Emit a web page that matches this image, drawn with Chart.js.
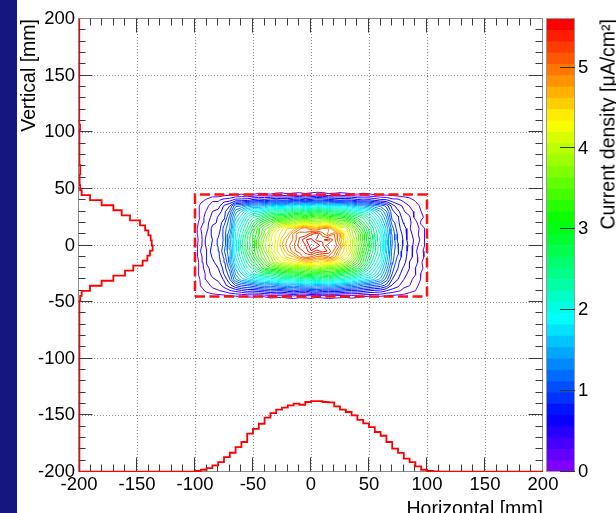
<!DOCTYPE html>
<html>
<head>
<meta charset="utf-8">
<script src="https://cdn.jsdelivr.net/npm/chart.js@4.4.1/dist/chart.umd.min.js"></script>
<style>
  html, body { margin: 0; padding: 0; background: #fff; }
  #wrap { position: relative; width: 616px; height: 513px; overflow: hidden; background: #fff; }
  #strip { position: absolute; left: 0; top: 0; width: 17px; height: 513px; background: #15177f; }
  #main { position: absolute; left: 0; top: 0; }
  #bar { position: absolute; left: 540px; top: 0; }
  #ztitle {
    position: absolute; left: 0; top: 0; width: 300px; text-align: right;
    font: 19.5px 'Liberation Sans', Arial, sans-serif; line-height: 19.5px;
    white-space: nowrap; color: #000;
    transform-origin: 0 0; transform: translate(598.5px, 319px) rotate(-90deg);
  }
</style>
</head>
<body>
<div id="wrap">
  <div id="strip"></div>
  <canvas id="main" width="616" height="513"></canvas>
  <canvas id="bar" width="76" height="513"></canvas>
  <div id="ztitle">Current density [μA/cm²]</div>
</div>
<script>
// ---------------- beam data ----------------
// current density map [uA/cm^2] on a 5 mm grid (x columns, y rows, top row first)
const gridX = [-100,-95,-90,-85,-80,-75,-70,-65,-60,-55,-50,-45,-40,-35,-30,-25,-20,-15,-10,-5,0,
               5,10,15,20,25,30,35,40,45,50,55,60,65,70,75,80,85,90,95,100];
const gridY = [50,45,40,35,30,25,20,15,10,5,0,-5,-10,-15,-20,-25,-30,-35,-40,-45,-50];
const densityRows = [
  [0,0,0,0,0,0,0,0,0,0,0,0,0,0,0,0,0,0,0,0,0,0,0,0,0,0,0,0,0,0,0,0,0,0,0,0,0,0,0,0,0],
  [0.01,0.04,0.06,0.07,0.06,0.09,0.10,0.13,0.15,0.12,0.14,0.18,0.17,0.15,0.19,0.20,0.16,0.19,0.21,0.17,0.20,0.23,0.22,0.17,0.18,0.21,0.19,0.16,0.15,0.18,0.16,0.13,0.12,0.10,0.10,0.07,0.08,0.05,0.06,0.03,0.02],
  [0.02,0.10,0.16,0.24,0.26,0.34,0.37,0.49,0.50,0.52,0.62,0.66,0.63,0.69,0.74,0.70,0.72,0.79,0.81,0.74,0.78,0.86,0.83,0.79,0.75,0.70,0.73,0.70,0.62,0.58,0.60,0.54,0.47,0.45,0.34,0.33,0.23,0.20,0.12,0.09,0.03],
  [0.03,0.18,0.22,0.40,0.35,0.58,0.70,1.08,1.12,1.30,1.38,1.36,1.44,1.58,1.63,1.60,1.65,1.77,1.80,1.70,1.76,1.86,1.83,1.72,1.70,1.72,1.65,1.52,1.42,1.40,1.31,1.15,1.08,0.93,0.64,0.46,0.40,0.27,0.22,0.10,0.05],
  [0.03,0.18,0.30,0.42,0.47,0.64,0.87,1.33,1.55,1.82,1.96,1.98,2.10,2.28,2.35,2.31,2.40,2.55,2.58,2.48,2.55,2.66,2.64,2.52,2.47,2.45,2.36,2.18,2.06,2.02,1.88,1.62,1.40,1.13,0.74,0.60,0.43,0.36,0.23,0.14,0.06],
  [0.04,0.16,0.38,0.44,0.58,0.66,1.02,1.50,1.76,2.12,2.36,2.45,2.66,2.86,2.97,2.96,3.05,3.22,3.25,3.12,3.28,3.36,3.31,3.18,3.12,3.10,2.99,2.78,2.62,2.48,2.20,1.90,1.60,1.27,0.78,0.72,0.45,0.44,0.22,0.19,0.06],
  [0.04,0.22,0.37,0.52,0.58,0.79,1.08,1.64,1.93,2.30,2.60,2.90,3.10,3.30,3.60,3.72,3.68,3.78,3.95,4.10,3.92,3.88,4.05,4.02,3.80,3.58,3.62,3.35,3.02,2.68,2.42,2.10,1.76,1.38,0.92,0.74,0.54,0.44,0.36,0.10,0.07],
  [0.05,0.28,0.36,0.61,0.58,0.90,1.12,1.78,2.10,2.42,2.80,3.18,3.45,3.62,4.02,4.30,4.50,4.55,4.85,5.02,4.75,4.70,4.90,4.95,4.50,4.15,4.10,3.78,3.30,2.98,2.62,2.30,1.92,1.50,1.05,0.74,0.64,0.43,0.35,0.24,0.07],
  [0.05,0.25,0.43,0.60,0.66,0.89,1.24,1.86,2.20,2.62,2.95,3.20,3.55,3.98,4.25,4.40,4.60,4.95,5.15,5.05,5.30,5.42,5.10,4.85,5.05,4.82,4.25,3.82,3.55,3.18,2.70,2.36,2.08,1.52,1.10,0.81,0.65,0.47,0.35,0.21,0.08],
  [0.05,0.22,0.48,0.56,0.73,0.86,1.34,1.87,2.30,2.68,2.95,3.38,3.70,4.02,4.22,4.55,4.80,4.92,5.20,5.45,5.50,5.28,5.30,5.38,5.12,4.70,4.30,4.02,3.60,3.15,2.78,2.40,2.05,1.60,1.12,0.80,0.68,0.46,0.40,0.24,0.08],
  [0.05,0.24,0.46,0.58,0.72,0.88,1.32,1.88,2.32,2.62,2.98,3.42,3.75,3.95,4.28,4.62,4.85,5.02,5.25,5.30,5.55,5.58,5.35,5.08,5.15,4.88,4.35,3.98,3.62,3.25,2.82,2.45,2.10,1.62,1.12,0.86,0.66,0.52,0.34,0.21,0.08],
  [0.05,0.29,0.41,0.64,0.66,0.96,1.22,1.90,2.25,2.70,3.00,3.30,3.65,4.05,4.30,4.48,4.75,5.00,5.10,5.22,5.45,5.25,5.38,5.30,5.00,4.62,4.40,4.05,3.55,3.12,2.75,2.40,2.10,1.56,1.05,0.88,0.60,0.53,0.31,0.17,0.08],
  [0.05,0.24,0.42,0.58,0.65,0.87,1.22,1.83,2.18,2.55,2.88,3.22,3.50,3.75,4.12,4.38,4.55,4.62,4.90,5.12,5.05,4.88,4.90,5.02,4.85,4.45,4.15,3.88,3.45,3.00,2.65,2.30,2.02,1.50,1.06,0.80,0.62,0.49,0.33,0.20,0.07],
  [0.04,0.19,0.44,0.51,0.65,0.78,1.20,1.72,2.05,2.40,2.70,2.98,3.30,3.65,3.90,4.05,4.10,4.28,4.35,4.50,4.45,4.38,4.30,4.42,4.25,4.05,3.90,3.55,3.25,2.92,2.50,2.18,1.90,1.42,1.02,0.72,0.62,0.41,0.36,0.15,0.07],
  [0.04,0.21,0.36,0.50,0.56,0.75,1.05,1.56,1.90,2.22,2.44,2.78,3.05,3.20,3.25,3.42,3.50,3.62,3.55,3.60,3.72,3.78,3.65,3.52,3.55,3.45,3.30,3.12,2.95,2.62,2.30,2.00,1.70,1.33,0.90,0.70,0.53,0.42,0.28,0.17,0.07],
  [0.04,0.22,0.30,0.49,0.47,0.71,0.92,1.42,1.68,1.98,2.22,2.38,2.48,2.50,2.62,2.78,2.83,2.82,2.90,3.00,3.02,2.92,2.95,3.00,2.90,2.75,2.66,2.58,2.43,2.20,2.05,1.82,1.55,1.20,0.84,0.59,0.52,0.34,0.29,0.13,0.06],
  [0.03,0.16,0.30,0.38,0.46,0.58,0.83,1.24,1.47,1.60,1.72,1.82,1.86,1.98,2.06,2.15,2.12,2.18,2.26,2.30,2.28,2.22,2.30,2.32,2.20,2.12,2.08,1.98,1.84,1.74,1.66,1.50,1.35,1.05,0.70,0.56,0.42,0.33,0.22,0.13,0.05],
  [0.03,0.15,0.21,0.33,0.34,0.50,0.66,0.87,0.98,1.02,1.10,1.20,1.25,1.22,1.30,1.38,1.42,1.36,1.44,1.50,1.52,1.44,1.47,1.52,1.46,1.40,1.32,1.30,1.23,1.12,1.06,1.00,0.94,0.80,0.55,0.47,0.31,0.29,0.16,0.12,0.04],
  [0.02,0.09,0.17,0.22,0.27,0.31,0.40,0.46,0.53,0.60,0.58,0.62,0.67,0.72,0.69,0.70,0.76,0.80,0.76,0.74,0.82,0.85,0.78,0.75,0.78,0.76,0.70,0.66,0.66,0.62,0.56,0.52,0.50,0.42,0.36,0.30,0.25,0.18,0.14,0.07,0.03],
  [0.01,0.05,0.05,0.07,0.07,0.08,0.11,0.12,0.13,0.15,0.16,0.13,0.15,0.19,0.18,0.16,0.20,0.22,0.18,0.19,0.21,0.17,0.19,0.22,0.20,0.18,0.17,0.20,0.17,0.14,0.13,0.15,0.13,0.10,0.09,0.08,0.07,0.06,0.05,0.04,0.01],
  [0,0,0,0,0,0,0,0,0,0,0,0,0,0,0,0,0,0,0,0,0,0,0,0,0,0,0,0,0,0,0,0,0,0,0,0,0,0,0,0,0]
];

// horizontal projection, 80 bins of 5 mm from -200 to 200 (drawn above y = -200)
const horizontalProjection = [
  0.3,0.2,0.3,0.2,0.3,0.2,0.2,0.3,0.2,0.3,0.3,0.2,0.3,0.2,0.3,0.2,0.3,0.3,0.2,0.4,
  0.9,2.0,3.5,5.9,8.8,13.2,17.0,22.0,26.5,33.8,38.0,42.6,48.0,52.0,55.0,56.8,58.8,60.3,59.4,61.8,
  62.6,62.6,61.8,61.5,58.0,55.0,53.0,50.0,46.0,43.0,39.7,35.3,32.0,26.5,20.6,16.8,11.8,8.8,5.0,2.0,
  0.9,0.6,0.4,0.3,0.3,0.2,0.3,0.2,0.3,0.2,0.2,0.3,0.2,0.3,0.2,0.2,0.3,0.2,0.3,0.2
];

// vertical projection, 90 bins from -200 to 200 (drawn right of x = -200)
const verticalProjection = [
  0.2,0.3,0.3,0.4,0.3,0.2,0.2,0.3,0.2,0.2,0.3,0.2,0.3,0.2,0.2,0.3,0.2,0.3,0.2,0.2,
  0.3,0.2,0.3,0.2,0.2,0.3,0.3,0.7,0.6,0.7,0.8,0.7,0.6,0.6,1.0,2.3,9.5,19.5,29.6,39.7,
  46.8,54.9,58.9,61.2,63.5,62.7,61.8,59.8,57.0,52.6,44.0,36.8,29.6,19.5,9.5,2.3,1.0,0.6,0.5,1.1,
  1.0,0.4,0.4,0.3,0.4,0.3,0.4,0.3,0.9,0.3,0.2,0.3,0.2,0.3,0.2,0.2,0.3,0.2,0.3,0.2,
  0.2,0.3,0.2,0.2,0.3,0.2,0.1,0.1,0.2,0.2
];

const axisRange = [-200, 200];
const axisTicks = [-200, -150, -100, -50, 0, 50, 100, 150, 200];
const densityTicks = [0, 1, 2, 3, 4, 5];
const densityMax = 5.6;
const contourCount = 40;
const apertureX = [-100, 100];
const apertureY = [-45, 45];

// ---------------- helpers ----------------
const FONT = "'Liberation Sans', Arial, sans-serif";

function paletteColour(i) {
  const hue = 270 * (1 - i / (contourCount - 1));
  return `hsl(${hue.toFixed(1)}, 100%, 50%)`;
}

// marching squares on the density grid, segments chained into polylines
function contourLines(level) {
  const segs = [];
  for (let j = 0; j < gridY.length - 1; j++) {
    for (let i = 0; i < gridX.length - 1; i++) {
      const x0 = gridX[i], x1 = gridX[i + 1], y0 = gridY[j], y1 = gridY[j + 1];
      const a = densityRows[j][i], b = densityRows[j][i + 1];
      const c = densityRows[j + 1][i + 1], d = densityRows[j + 1][i];
      let idx = 0;
      if (a >= level) idx |= 1;
      if (b >= level) idx |= 2;
      if (c >= level) idx |= 4;
      if (d >= level) idx |= 8;
      if (idx === 0 || idx === 15) continue;
      const t = (p, q) => (level - p) / (q - p);
      const eA = () => ({ x: x0 + (x1 - x0) * t(a, b), y: y0 });
      const eB = () => ({ x: x1, y: y0 + (y1 - y0) * t(b, c) });
      const eC = () => ({ x: x0 + (x1 - x0) * t(d, c), y: y1 });
      const eD = () => ({ x: x0, y: y0 + (y1 - y0) * t(a, d) });
      switch (idx) {
        case 1: case 14: segs.push([eD(), eA()]); break;
        case 2: case 13: segs.push([eA(), eB()]); break;
        case 3: case 12: segs.push([eD(), eB()]); break;
        case 4: case 11: segs.push([eB(), eC()]); break;
        case 6: case 9: segs.push([eA(), eC()]); break;
        case 7: case 8: segs.push([eD(), eC()]); break;
        case 5: case 10: {
          const centre = (a + b + c + d) / 4;
          if ((idx === 5) === (centre >= level)) { segs.push([eD(), eC()]); segs.push([eA(), eB()]); }
          else { segs.push([eD(), eA()]); segs.push([eB(), eC()]); }
          break;
        }
      }
    }
  }
  const key = p => p.x.toFixed(5) + ',' + p.y.toFixed(5);
  const ends = new Map();
  segs.forEach((s, n) => s.forEach(p => {
    const k = key(p);
    if (!ends.has(k)) ends.set(k, []);
    ends.get(k).push(n);
  }));
  const used = segs.map(() => false);
  const extend = line => {
    let last = line[line.length - 1];
    for (;;) {
      const n = (ends.get(key(last)) || []).find(m => !used[m]);
      if (n === undefined) break;
      used[n] = true;
      const s = segs[n];
      const next = key(s[0]) === key(last) ? s[1] : s[0];
      line.push(next);
      last = next;
    }
  };
  const lines = [];
  segs.forEach((s, n) => {
    if (used[n]) return;
    used[n] = true;
    const line = [s[0], s[1]];
    extend(line);
    line.reverse();
    extend(line);
    lines.push(line);
  });
  return lines;
}

function stepOutline(values, base, vertical) {
  const w = (axisRange[1] - axisRange[0]) / values.length;
  const pts = [];
  values.forEach((v, i) => {
    const lo = axisRange[0] + i * w, hi = lo + w, h = base + v;
    if (vertical) pts.push({ x: h, y: lo }, { x: h, y: hi });
    else pts.push({ x: lo, y: h }, { x: hi, y: h });
  });
  return pts;
}

// ---------------- datasets ----------------
const datasets = [];
datasets.push({
  data: [
    { x: apertureX[0], y: apertureY[0] }, { x: apertureX[1], y: apertureY[0] },
    { x: apertureX[1], y: apertureY[1] }, { x: apertureX[0], y: apertureY[1] },
    { x: apertureX[0], y: apertureY[0] }
  ],
  showLine: true, borderColor: '#ff1010', borderWidth: 2.5, borderDash: [10, 4.5],
  pointRadius: 0, order: 0
});
datasets.push({
  data: stepOutline(horizontalProjection, axisRange[0], false),
  showLine: true, borderColor: '#ff0000', borderWidth: 1.8, pointRadius: 0, order: 1
});
datasets.push({
  data: stepOutline(verticalProjection, axisRange[0], true),
  showLine: true, borderColor: '#ff0000', borderWidth: 1.8, pointRadius: 0, order: 1
});
for (let k = 1; k < contourCount; k++) {
  const level = k * densityMax / contourCount;
  const pts = [];
  contourLines(level).forEach(line => { pts.push(...line, { x: null, y: null }); });
  datasets.push({
    data: pts, showLine: true, spanGaps: false, borderColor: paletteColour(k),
    borderWidth: 1, pointRadius: 0, order: 2
  });
}

// frame with inward major/minor ticks on all four sides
const frameTicks = {
  id: 'frameTicks',
  beforeDatasetsDraw(chart) {
    const { ctx, chartArea: a, scales: { x, y } } = chart;
    const L = Math.round(a.left) - 0.5, R = Math.round(a.right) - 0.5;
    const T = Math.round(a.top) - 0.5, B = Math.round(a.bottom) - 0.5;
    ctx.save();
    ctx.lineWidth = 1;
    ctx.strokeStyle = '#8a8a8a';
    ctx.strokeRect(L, T, R - L, B - T);
    ctx.strokeStyle = '#3a3a3a';
    ctx.beginPath();
    for (let v = axisRange[0] + 10; v < axisRange[1]; v += 10) {
      const len = v % 50 === 0 ? 14 : 7;
      const px = Math.round(x.getPixelForValue(v)) - 0.5;
      ctx.moveTo(px, B); ctx.lineTo(px, B - len);
      ctx.moveTo(px, T); ctx.lineTo(px, T + len);
      const py = Math.round(y.getPixelForValue(v)) - 0.5;
      ctx.moveTo(L, py); ctx.lineTo(L + len, py);
      ctx.moveTo(R, py); ctx.lineTo(R - len, py);
    }
    ctx.stroke();
    ctx.restore();
  }
};

const gridColour = c => (Math.abs(c.tick.value) === 200 ? 'rgba(0,0,0,0)' : '#8f8f8f');

new Chart(document.getElementById('main'), {
  type: 'scatter',
  data: { datasets },
  options: {
    responsive: false, animation: false, events: [],
    layout: { padding: { left: 0, right: 73, top: 19, bottom: 0 } },
    plugins: { legend: { display: false }, tooltip: { enabled: false } },
    scales: {
      x: {
        type: 'linear', min: axisRange[0], max: axisRange[1],
        afterBuildTicks: s => { s.ticks = axisTicks.map(v => ({ value: v })); },
        afterFit: s => { s.height = 41; },
        grid: { color: gridColour, lineWidth: 1, drawTicks: false },
        border: { display: false, dash: [1, 2] },
        ticks: { font: { family: FONT, size: 18.5 }, color: '#000', padding: 1.5, maxRotation: 0 },
        title: { display: true, text: 'Horizontal [mm]', align: 'end', color: '#000',
                 font: { family: FONT, size: 19.5, lineHeight: 1 }, padding: { top: 0, bottom: -6 } }
      },
      y: {
        type: 'linear', min: axisRange[0], max: axisRange[1],
        afterBuildTicks: s => { s.ticks = axisTicks.map(v => ({ value: v })); },
        afterFit: s => { s.width = 79; },
        grid: { color: gridColour, lineWidth: 1, drawTicks: false },
        border: { display: false, dash: [1, 2] },
        ticks: { font: { family: FONT, size: 18.5 }, color: '#000', padding: 4 },
        title: { display: true, text: 'Vertical [mm]', align: 'end', color: '#000',
                 font: { family: FONT, size: 19.5, lineHeight: 1.2 }, padding: { top: 17.5, bottom: 0 } }
      }
    }
  },
  plugins: [frameTicks]
});

// ---------------- colour scale ----------------
const bandSets = [];
for (let i = 0; i < contourCount; i++) {
  const lo = i * densityMax / contourCount, hi = (i + 1) * densityMax / contourCount;
  bandSets.push({
    data: [[lo, hi]], backgroundColor: paletteColour(i), borderWidth: 0,
    grouped: false, barPercentage: 1, categoryPercentage: 1, xAxisID: 'x', yAxisID: 'z'
  });
}

const barTicks = {
  id: 'barTicks',
  afterDatasetsDraw(chart) {
    const { ctx, chartArea: a, scales: { z } } = chart;
    ctx.save();
    ctx.lineWidth = 1;
    ctx.strokeStyle = '#9a9a9a';
    ctx.strokeRect(Math.round(a.left) - 0.5, Math.round(a.top) - 0.5,
                   Math.round(a.right - a.left), Math.round(a.bottom - a.top));
    ctx.strokeStyle = '#333';
    ctx.beginPath();
    densityTicks.forEach(v => {
      const py = Math.round(z.getPixelForValue(v)) - 0.5;
      ctx.moveTo(a.right, py); ctx.lineTo(a.right - 15, py);
    });
    ctx.stroke();
    ctx.restore();
  }
};

new Chart(document.getElementById('bar'), {
  type: 'bar',
  data: { labels: [''], datasets: bandSets },
  options: {
    responsive: false, animation: false, events: [],
    layout: { padding: { left: 7, right: 0, top: 19, bottom: 41 } },
    plugins: { legend: { display: false }, tooltip: { enabled: false } },
    scales: {
      x: { display: false },
      z: {
        type: 'linear', position: 'right', min: 0, max: densityMax,
        afterBuildTicks: s => { s.ticks = densityTicks.map(v => ({ value: v })); },
        afterFit: s => { s.width = 41; },
        grid: { display: false, drawTicks: false },
        border: { display: false },
        ticks: { font: { family: FONT, size: 18.5 }, color: '#000', padding: 3 }
      }
    }
  },
  plugins: [barTicks]
});
</script>
</body>
</html>
